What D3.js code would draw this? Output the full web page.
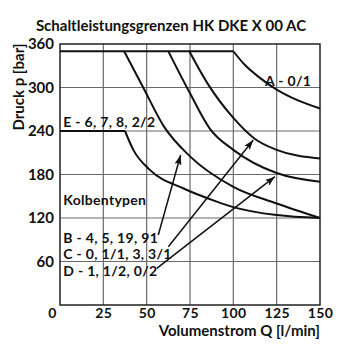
<!DOCTYPE html>
<html>
<head>
<meta charset="utf-8">
<script src="https://cdnjs.cloudflare.com/ajax/libs/d3/7.8.5/d3.min.js"></script>
<style>
  body { margin: 0; background: #fff; }
  text { font-family: Lato, "Open Sans", sans-serif; font-weight: 700; fill: #111; }
</style>
</head>
<body>
<div id="chart-area"></div>
<script>
// Schaltleistungsgrenzen HK DKE X 00 AC

var qTicks = [0, 25, 50, 75, 100, 125, 150];
var pTicks = [60, 120, 180, 240, 300, 360];

// Q [l/min], p [bar]
var lineTop = [[0, 350], [100, 350]];
var lineE0  = [[0, 240], [37.5, 240]];
var curveA = [[100, 350], [106.7, 331], [114.4, 315], [125, 297], [133.7, 286], [150, 271]];
var curveC = [[74.6, 350], [85, 306], [100, 258], [112.5, 229], [125, 214], [150, 202]];
var curveD = [[62.5, 350], [75, 292], [86.5, 243], [100, 214], [125, 182], [150, 170]];
var curveB = [[37, 350], [48, 300], [60, 246], [75, 205], [100, 163], [125, 140], [150, 120]];
var curveE = [[37.5, 240], [42.3, 214], [52, 186], [71, 161], [90, 143], [100, 135], [125, 124], [150, 120]];

var labels = [
  {text: "A - 0/1", q: 118.3, p: 302},
  {text: "E - 6, 7, 8, 2/2", q: 1.9, p: 245},
  {text: "Kolbentypen", q: 1.9, p: 138},
  {text: "B - 4, 5, 19, 91", q: 1.9, p: 86},
  {text: "C - 0, 1/1, 3, 3/1", q: 1.9, p: 63},
  {text: "D - 1, 1/2, 0/2", q: 1.9, p: 40.5}
];

var arrows = [
  [[56.7, 96.5], [69.6, 206.9]],
  [[62.5, 80.4], [111.5, 227.6]],
  [[55.8, 50.6], [124, 177]]
];

var margin = {left: 60, right: 30, top: 44, bottom: 45};
var width = 350 - margin.left - margin.right;
var height = 350 - margin.top - margin.bottom;

var svg = d3.select("#chart-area").append("svg")
    .attr("width", 350)
    .attr("height", 350);

svg.append("defs").append("marker")
    .attr("id", "arrow")
    .attr("viewBox", "0 0 10 10")
    .attr("refX", 10).attr("refY", 5)
    .attr("markerWidth", 10).attr("markerHeight", 7)
    .attr("markerUnits", "userSpaceOnUse")
    .attr("orient", "auto")
    .attr("preserveAspectRatio", "none")
    .append("path")
    .attr("d", "M0,0 L10,5 L0,10 L2,5 Z")
    .attr("fill", "#111");

var g = svg.append("g")
    .attr("transform", "translate(" + margin.left + "," + margin.top + ")");

var x = d3.scaleLinear().domain([0, 150]).range([0, width]);
var y = d3.scaleLinear().domain([0, 360]).range([height, 0]);

// grid
g.append("g").selectAll("line")
    .data(qTicks.slice(1, -1))
    .enter().append("line")
    .attr("x1", function(d) { return x(d); })
    .attr("x2", function(d) { return x(d); })
    .attr("y1", 0).attr("y2", height)
    .attr("stroke", "#6a6a6a").attr("stroke-width", 1.2);

g.append("g").selectAll("line")
    .data(pTicks.slice(0, -1))
    .enter().append("line")
    .attr("x1", 0).attr("x2", width)
    .attr("y1", function(d) { return y(d); })
    .attr("y2", function(d) { return y(d); })
    .attr("stroke", "#6a6a6a").attr("stroke-width", 1.2);

g.append("rect")
    .attr("width", width).attr("height", height)
    .attr("fill", "none")
    .attr("stroke", "#222").attr("stroke-width", 1.5);

// axes
var xAxis = g.append("g")
    .attr("transform", "translate(0," + height + ")")
    .call(d3.axisBottom(x).tickValues(qTicks).tickSize(0).tickPadding(3));
xAxis.select(".domain").remove();
xAxis.selectAll("text")
    .attr("font-size", 14)
    .attr("letter-spacing", 0.4)
    .attr("fill", "#111")
    .attr("dx", function(d) { return d === 0 ? -8 : 0; });

var yAxis = g.append("g")
    .call(d3.axisLeft(y).tickValues(pTicks).tickSize(0).tickPadding(6));
yAxis.select(".domain").remove();
yAxis.selectAll("text").attr("font-size", 15).attr("fill", "#111");

svg.append("text")
    .attr("x", 171).attr("y", 31)
    .attr("text-anchor", "middle")
    .attr("font-size", 15)
    .text("Schaltleistungsgrenzen HK DKE X 00 AC");

svg.append("text")
    .attr("transform", "translate(24,87) rotate(-90)")
    .attr("text-anchor", "middle")
    .attr("font-size", 15)
    .text("Druck p [bar]");

svg.append("text")
    .attr("x", 320).attr("y", 336)
    .attr("text-anchor", "end")
    .attr("font-size", 15)
    .text("Volumenstrom Q [l/min]");

// curves
var line = d3.line()
    .x(function(d) { return x(d[0]); })
    .y(function(d) { return y(d[1]); })
    .curve(d3.curveMonotoneX);

[lineTop, lineE0, curveA, curveB, curveC, curveD, curveE].forEach(function(c) {
    g.append("path")
        .attr("d", line(c))
        .attr("fill", "none")
        .attr("stroke", "#111")
        .attr("stroke-width", 2);
});

// arrows
g.selectAll(".arrow")
    .data(arrows)
    .enter().append("line")
    .attr("class", "arrow")
    .attr("x1", function(d) { return x(d[0][0]); })
    .attr("y1", function(d) { return y(d[0][1]); })
    .attr("x2", function(d) { return x(d[1][0]); })
    .attr("y2", function(d) { return y(d[1][1]); })
    .attr("stroke", "#111")
    .attr("stroke-width", 1.5)
    .attr("marker-end", "url(#arrow)");

// labels
g.selectAll(".lbl")
    .data(labels)
    .enter().append("text")
    .attr("class", "lbl")
    .attr("x", function(d) { return x(d.q); })
    .attr("y", function(d) { return y(d.p); })
    .attr("font-size", 14)
    .attr("letter-spacing", 0.3)
    .text(function(d) { return d.text; });
</script>
</body>
</html>
